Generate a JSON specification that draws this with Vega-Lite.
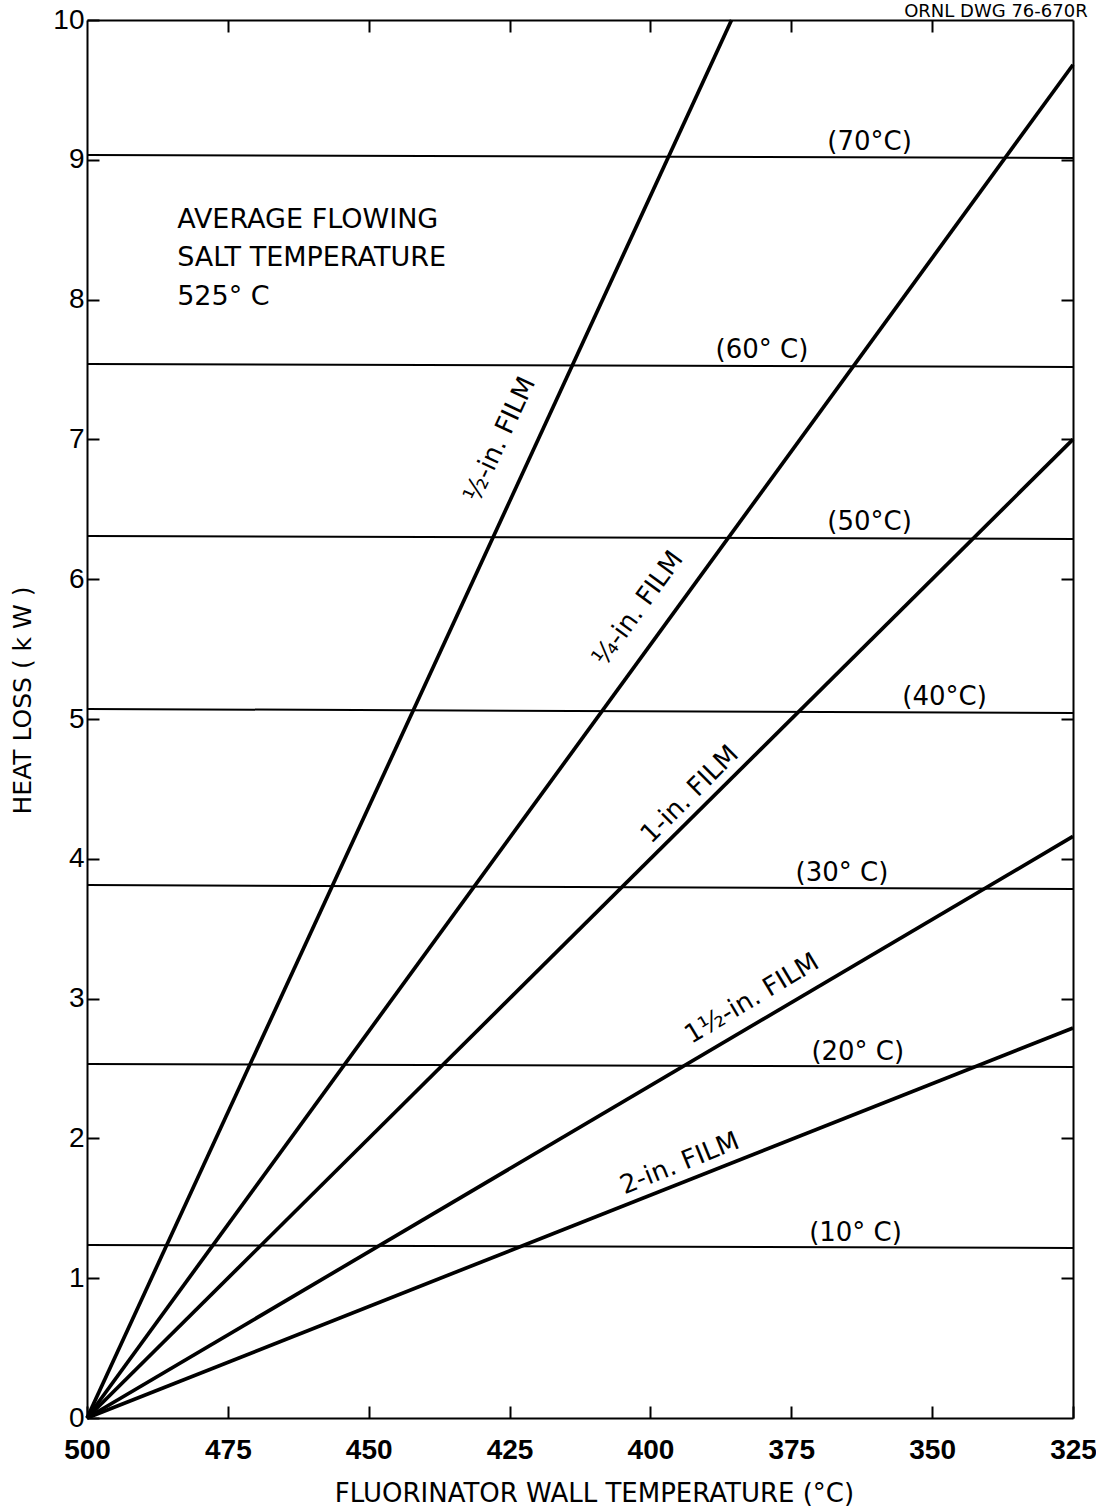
{
  "$schema": "https://vega.github.io/schema/vega-lite/v6.json",
  "width": 986,
  "height": 1398,
  "autosize": {"type": "none"},
  "padding": {"left": 87, "top": 20, "right": 23, "bottom": 88},
  "background": "white",
  "config": {
    "view": {"stroke": null},
    "font": "DejaVu Sans",
    "axis": {
      "grid": false,
      "domainColor": "black",
      "domainWidth": 2,
      "tickColor": "black",
      "tickWidth": 2,
      "tickSize": -12,
      "labelColor": "black",
      "titleColor": "black",
      "labelFont": "Liberation Sans",
      "titleFont": "DejaVu Sans",
      "titleFontWeight": "normal"
    }
  },
  "datasets": {
    "curves": [
      {"film": "1/2-in", "temp": 500, "loss": 0},
      {"film": "1/2-in", "temp": 385.6, "loss": 10},
      {"film": "1/4-in", "temp": 500, "loss": 0},
      {"film": "1/4-in", "temp": 325, "loss": 9.68},
      {"film": "1-in", "temp": 500, "loss": 0},
      {"film": "1-in", "temp": 325, "loss": 7.0},
      {"film": "1 1/2-in", "temp": 500, "loss": 0},
      {"film": "1 1/2-in", "temp": 325, "loss": 4.16},
      {"film": "2-in", "temp": 500, "loss": 0},
      {"film": "2-in", "temp": 325, "loss": 2.79}
    ],
    "levels": [
      {"dT": "70", "temp": 500, "loss": 9.034},
      {"dT": "70", "temp": 325, "loss": 9.013},
      {"dT": "60", "temp": 500, "loss": 7.539},
      {"dT": "60", "temp": 325, "loss": 7.518},
      {"dT": "50", "temp": 500, "loss": 6.309},
      {"dT": "50", "temp": 325, "loss": 6.288},
      {"dT": "40", "temp": 500, "loss": 5.072},
      {"dT": "40", "temp": 325, "loss": 5.043},
      {"dT": "30", "temp": 500, "loss": 3.813},
      {"dT": "30", "temp": 325, "loss": 3.784},
      {"dT": "20", "temp": 500, "loss": 2.532},
      {"dT": "20", "temp": 325, "loss": 2.511},
      {"dT": "10", "temp": 500, "loss": 1.237},
      {"dT": "10", "temp": 325, "loss": 1.216}
    ],
    "levelLabels": [
      {"temp": 361.1, "loss": 9.13, "label": "(70°C)"},
      {"temp": 380.2, "loss": 7.64, "label": "(60° C)"},
      {"temp": 361.1, "loss": 6.41, "label": "(50°C)"},
      {"temp": 347.8, "loss": 5.16, "label": "(40°C)"},
      {"temp": 366.0, "loss": 3.90, "label": "(30° C)"},
      {"temp": 363.2, "loss": 2.62, "label": "(20° C)"},
      {"temp": 363.6, "loss": 1.32, "label": "(10° C)"}
    ],
    "note": [
      {"temp": 484.0, "loss": 8.57, "label": "AVERAGE FLOWING"},
      {"temp": 484.0, "loss": 8.30, "label": "SALT TEMPERATURE"},
      {"temp": 484.0, "loss": 8.02, "label": "525° C"}
    ]
  },
  "layer": [
    {
      "data": {"name": "curves"},
      "mark": {"type": "line", "color": "black", "strokeWidth": 3.7, "strokeCap": "butt"},
      "encoding": {
        "x": {
          "field": "temp", "type": "quantitative",
          "scale": {"domain": [325, 500], "reverse": true, "nice": false, "zero": false},
          "axis": {
            "orient": "bottom",
            "values": [500, 475, 450, 425, 400, 375, 350, 325],
            "labelFontSize": 28,
            "labelFontWeight": "bold",
            "labelPadding": 30,
            "labelFlush": false,
            "labelOverlap": false,
            "title": "FLUORINATOR WALL TEMPERATURE (°C)",
            "titleFontSize": 26,
            "titleX": 507,
            "titleY": 83,
            "titleBaseline": "alphabetic"
          }
        },
        "y": {
          "field": "loss", "type": "quantitative",
          "scale": {"domain": [0, 10], "nice": false},
          "axis": {
            "orient": "left",
            "values": [0, 1, 2, 3, 4, 5, 6, 7, 8, 9, 10],
            "labelFontSize": 28,
            "labelPadding": 15,
            "labelFlush": false,
            "labelOverlap": false,
            "title": "HEAT LOSS ( k W )",
            "titleFontSize": 25,
            "titleX": -65,
            "titleY": 680,
            "titleAngle": -90,
            "titleBaseline": "middle",
            "titleAlign": "center"
          }
        },
        "detail": {"field": "film"}
      }
    },
    {
      "data": {"name": "levels"},
      "mark": {"type": "line", "color": "black", "strokeWidth": 2},
      "encoding": {
        "x": {
          "field": "temp", "type": "quantitative",
          "axis": {"orient": "top", "values": [475, 450, 425, 400, 375, 350], "labels": false, "title": null}
        },
        "y": {
          "field": "loss", "type": "quantitative",
          "axis": {"orient": "right", "values": [1, 2, 3, 4, 5, 6, 7, 8, 9], "labels": false, "title": null}
        },
        "detail": {"field": "dT"}
      }
    },
    {
      "data": {"name": "levelLabels"},
      "mark": {"type": "text", "fontSize": 26, "align": "center", "baseline": "middle", "color": "black"},
      "encoding": {
        "x": {"field": "temp", "type": "quantitative", "axis": null},
        "y": {"field": "loss", "type": "quantitative", "axis": null},
        "text": {"field": "label"}
      }
    },
    {
      "data": {"name": "note"},
      "mark": {"type": "text", "fontSize": 27, "align": "left", "baseline": "middle", "color": "black"},
      "encoding": {
        "x": {"field": "temp", "type": "quantitative", "axis": null},
        "y": {"field": "loss", "type": "quantitative", "axis": null},
        "text": {"field": "label"}
      }
    },
    {
      "data": {"values": [{"temp": 426.7, "loss": 7.0, "label": "½-in. FILM"}]},
      "mark": {"type": "text", "fontSize": 26, "align": "center", "baseline": "middle", "angle": 295, "color": "black"},
      "encoding": {
        "x": {"field": "temp", "type": "quantitative", "axis": null},
        "y": {"field": "loss", "type": "quantitative", "axis": null},
        "text": {"field": "label"}
      }
    },
    {
      "data": {"values": [{"temp": 402.2, "loss": 5.79, "label": "¼-in. FILM"}]},
      "mark": {"type": "text", "fontSize": 26, "align": "center", "baseline": "middle", "angle": 306, "color": "black"},
      "encoding": {
        "x": {"field": "temp", "type": "quantitative", "axis": null},
        "y": {"field": "loss", "type": "quantitative", "axis": null},
        "text": {"field": "label"}
      }
    },
    {
      "data": {"values": [{"temp": 393.0, "loss": 4.46, "label": "1-in. FILM"}]},
      "mark": {"type": "text", "fontSize": 26, "align": "center", "baseline": "middle", "angle": 315, "color": "black"},
      "encoding": {
        "x": {"field": "temp", "type": "quantitative", "axis": null},
        "y": {"field": "loss", "type": "quantitative", "axis": null},
        "text": {"field": "label"}
      }
    },
    {
      "data": {"values": [{"temp": 382.0, "loss": 3.0, "label": "1½-in. FILM"}]},
      "mark": {"type": "text", "fontSize": 26, "align": "center", "baseline": "middle", "angle": 329, "color": "black"},
      "encoding": {
        "x": {"field": "temp", "type": "quantitative", "axis": null},
        "y": {"field": "loss", "type": "quantitative", "axis": null},
        "text": {"field": "label"}
      }
    },
    {
      "data": {"values": [{"temp": 394.8, "loss": 1.82, "label": "2-in. FILM"}]},
      "mark": {"type": "text", "fontSize": 26, "align": "center", "baseline": "middle", "angle": 338, "color": "black"},
      "encoding": {
        "x": {"field": "temp", "type": "quantitative", "axis": null},
        "y": {"field": "loss", "type": "quantitative", "axis": null},
        "text": {"field": "label"}
      }
    },
    {
      "data": {"values": [{"temp": 322.4, "loss": 10.02, "label": "ORNL DWG 76-670R"}]},
      "mark": {"type": "text", "fontSize": 18, "align": "right", "baseline": "alphabetic", "color": "black"},
      "encoding": {
        "x": {"field": "temp", "type": "quantitative", "axis": null},
        "y": {"field": "loss", "type": "quantitative", "axis": null},
        "text": {"field": "label"}
      }
    }
  ]
}
